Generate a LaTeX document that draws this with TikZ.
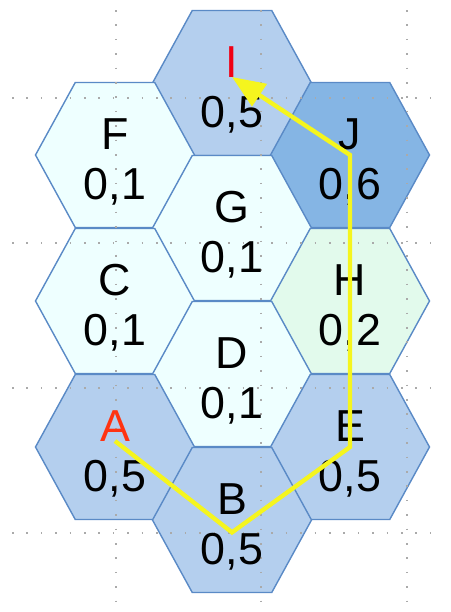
\documentclass[tikz,border=0pt]{standalone}
\usepackage{fontspec}
\setmainfont{Liberation Sans}
\usetikzlibrary{arrows.meta}
\definecolor{paleCell}{RGB}{238,255,255}
\definecolor{mintCell}{RGB}{226,250,236}
\definecolor{blueCell}{RGB}{180,207,238}
\definecolor{deepCell}{RGB}{133,181,228}
\definecolor{cellBorder}{RGB}{90,138,198}
\definecolor{gridDot}{RGB}{170,170,170}
\definecolor{routeYellow}{RGB}{245,245,30}
\definecolor{startRed}{RGB}{255,51,17}
\definecolor{goalRed}{RGB}{240,0,20}
\tikzset{
  cell/.style={draw=cellBorder, line width=0.8pt, line join=miter},
  griddots/.style={gridDot, line width=0.9pt, dash pattern=on 0.9pt off 7.3pt},
  celltext/.style={inner sep=0pt, anchor=base, font=\fontsize{25.5}{30}\selectfont},
  route/.style={routeYellow, line width=2.5pt, line join=miter, -{Triangle[length=0.66cm,width=0.52cm]}}
}
\begin{document}
\begin{tikzpicture}[x=0.02cm, y=-0.02cm]
\useasboundingbox (0,0) rectangle (450,612);
\foreach \cx/\cy/\col/\lab in {
  232/83/blueCell/I, 115/155/paleCell/F, 350/155/deepCell/J,
  232/228/paleCell/G, 115/301/paleCell/C, 350/301/mintCell/H,
  232/374/paleCell/D, 115/447/blueCell/A, 350/447/blueCell/E,
  232/520/blueCell/B}{
  \draw[cell, fill=\col, shift={(\cx,\cy)}] (-79.5,0) -- (-39.75,-72.5) -- (39.75,-72.5) -- (79.5,0) -- (39.75,72.5) -- (-39.75,72.5) -- cycle;
  \coordinate (c\lab) at (\cx,\cy);
}
\foreach \gx in {116,261,407} \draw[griddots] (\gx,10) -- (\gx,612);
\foreach \gy in {98,243,388,533} \draw[griddots] (12,\gy) -- (437,\gy);
\foreach \cx/\cy/\lab/\labcol/\val in {
  232/83/I/goalRed/{0,5}, 115/155/F/black/{0,1}, 350/155/J/black/{0,6},
  232/228/G/black/{0,1}, 115/301/C/black/{0,1}, 350/301/H/black/{0,2},
  232/374/D/black/{0,1}, 115/447/A/startRed/{0,5}, 350/447/E/black/{0,5},
  232/520/B/black/{0,5}}{
  \node[celltext, text=\labcol] (\lab) at (\cx,\cy-6) {\lab};
  \node[celltext] (v\lab) at (\cx,\cy+44) {\val};
}
\draw[route] (A.base) -- (vB.north) -- (cE) -- (cJ) -- (I.base);
\end{tikzpicture}
\end{document}
